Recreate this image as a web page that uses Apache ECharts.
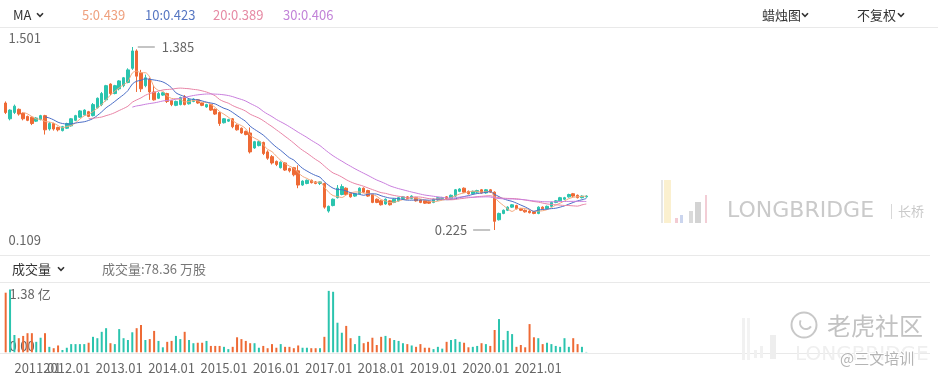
<!DOCTYPE html>
<html><head><meta charset="utf-8">
<script src="https://cdn.jsdelivr.net/npm/echarts@6/dist/echarts.min.js"></script>
<style>html,body{margin:0;padding:0;background:#fff}#main{width:940px;height:379px}</style>
</head><body><div id="main"></div>
<script>
// ---------- DATA (monthly) ----------
const startYear = 2010, startMonth = 11;
// [open, close, low, high]
const candles = [
[1.03,0.97,0.96,1.04],[0.93,0.985,0.92,0.99],[0.97,1.01,0.96,1.02],[0.99,0.96,0.95,0.995],[0.965,0.93,0.92,0.97],
[0.945,0.92,0.915,0.95],[0.94,0.90,0.89,0.945],[0.915,0.935,0.91,0.94],[0.925,0.95,0.92,0.955],[0.95,0.86,0.83,0.955],
[0.865,0.90,0.855,0.91],[0.90,0.865,0.855,0.905],[0.875,0.86,0.85,0.88],[0.855,0.88,0.85,0.885],[0.87,0.90,0.865,0.905],
[0.885,0.93,0.88,0.935],[0.92,0.95,0.915,0.955],[0.94,0.98,0.935,0.985],[0.955,0.985,0.95,0.99],[0.975,0.945,0.94,0.98],
[0.95,1.02,0.945,1.03],[1.00,1.06,0.995,1.065],[1.02,1.09,1.01,1.10],[1.05,1.14,1.04,1.145],[1.15,1.09,1.08,1.155],
[1.09,1.14,1.085,1.145],[1.12,1.17,1.11,1.175],[1.14,1.19,1.13,1.195],[1.16,1.24,1.155,1.25],[1.25,1.36,1.24,1.385],
[1.36,1.20,1.10,1.37],[1.22,1.12,1.10,1.24],[1.14,1.19,1.13,1.21],[1.18,1.10,1.05,1.19],[1.10,1.05,1.045,1.14],
[1.06,1.09,1.055,1.10],[1.08,1.095,1.075,1.10],[1.09,1.04,1.03,1.095],[1.045,1.02,1.01,1.05],[1.015,1.04,1.01,1.045],
[1.02,1.065,1.015,1.07],[1.07,1.02,1.015,1.08],[1.025,1.05,1.02,1.055],[1.04,1.055,1.035,1.06],[1.05,1.03,1.025,1.055],
[1.03,1.015,1.01,1.035],[1.005,1.02,1.0,1.025],[1.02,0.985,0.98,1.025],[0.99,0.96,0.955,0.995],[0.97,0.90,0.885,0.975],
[0.905,0.93,0.90,0.935],[0.915,0.925,0.91,0.93],[0.93,0.88,0.87,0.935],[0.89,0.86,0.855,0.895],[0.87,0.84,0.835,0.875],
[0.85,0.83,0.825,0.855],[0.84,0.72,0.71,0.875],[0.745,0.785,0.74,0.79],[0.76,0.785,0.755,0.79],[0.78,0.71,0.70,0.785],
[0.72,0.68,0.67,0.73],[0.69,0.65,0.64,0.70],[0.66,0.64,0.63,0.665],[0.62,0.655,0.615,0.66],[0.65,0.605,0.60,0.655],
[0.615,0.60,0.59,0.62],[0.62,0.575,0.565,0.625],[0.60,0.51,0.49,0.635],[0.51,0.535,0.505,0.54],[0.52,0.54,0.515,0.545],
[0.54,0.525,0.52,0.545],[0.53,0.52,0.515,0.535],[0.52,0.53,0.51,0.535],[0.52,0.37,0.36,0.525],[0.345,0.375,0.335,0.38],
[0.38,0.42,0.375,0.425],[0.43,0.49,0.425,0.51],[0.45,0.50,0.445,0.515],[0.49,0.45,0.445,0.495],[0.46,0.435,0.43,0.465],
[0.44,0.455,0.435,0.46],[0.455,0.49,0.45,0.495],[0.49,0.465,0.46,0.495],[0.475,0.44,0.435,0.48],[0.45,0.40,0.395,0.455],
[0.42,0.40,0.395,0.425],[0.41,0.385,0.38,0.415],[0.39,0.42,0.385,0.425],[0.41,0.385,0.38,0.415],[0.40,0.42,0.395,0.425],
[0.41,0.43,0.405,0.435],[0.425,0.435,0.42,0.44],[0.435,0.425,0.42,0.44],[0.425,0.44,0.42,0.445],[0.43,0.41,0.405,0.435],
[0.415,0.40,0.395,0.42],[0.41,0.395,0.39,0.415],[0.405,0.395,0.39,0.41],[0.40,0.42,0.395,0.425],[0.415,0.43,0.41,0.435],
[0.425,0.43,0.42,0.435],[0.435,0.425,0.42,0.44],[0.425,0.445,0.42,0.45],[0.44,0.48,0.435,0.485],[0.47,0.485,0.465,0.49],
[0.49,0.465,0.46,0.495],[0.47,0.455,0.45,0.475],[0.455,0.47,0.45,0.475],[0.465,0.475,0.46,0.48],[0.48,0.46,0.455,0.485],
[0.46,0.48,0.455,0.485],[0.48,0.465,0.46,0.485],[0.465,0.28,0.225,0.47],[0.29,0.33,0.285,0.335],[0.33,0.35,0.325,0.355],
[0.35,0.37,0.345,0.375],[0.37,0.385,0.365,0.39],[0.38,0.36,0.355,0.385],[0.36,0.35,0.345,0.365],[0.35,0.34,0.335,0.355],
[0.345,0.335,0.33,0.35],[0.34,0.33,0.325,0.345],[0.33,0.37,0.325,0.375],[0.37,0.36,0.355,0.375],[0.36,0.375,0.355,0.38],
[0.375,0.40,0.37,0.405],[0.40,0.41,0.395,0.415],[0.41,0.43,0.405,0.435],[0.42,0.43,0.415,0.435],[0.435,0.45,0.43,0.455],
[0.455,0.44,0.435,0.46],[0.445,0.43,0.425,0.45],[0.43,0.44,0.425,0.445],[0.435,0.44,0.43,0.445]
];
// volume in 亿股
const volumes = [
1.31,1.38,0.38,0.31,0.36,0.42,0.42,0.23,0.32,0.42,
0.12,0.09,0.15,0.05,0.10,0.18,0.18,0.18,0.18,0.21,
0.34,0.31,0.45,0.53,0.20,0.18,0.51,0.31,0.27,0.44,
0.53,0.60,0.27,0.29,0.47,0.25,0.11,0.23,0.25,0.36,
0.29,0.45,0.27,0.20,0.21,0.21,0.25,0.14,0.14,0.14,
0.12,0.07,0.12,0.33,0.29,0.25,0.20,0.20,0.10,0.14,
0.09,0.18,0.10,0.18,0.12,0.12,0.09,0.15,0.10,0.10,
0.09,0.09,0.09,0.34,1.35,1.33,0.65,0.43,0.58,0.31,
0.18,0.36,0.20,0.23,0.32,0.16,0.34,0.36,0.31,0.27,
0.25,0.20,0.18,0.15,0.12,0.18,0.10,0.10,0.07,0.12,
0.08,0.23,0.27,0.29,0.23,0.21,0.11,0.12,0.14,0.20,
0.18,0.14,0.49,0.73,0.27,0.47,0.40,0.12,0.16,0.11,
0.62,0.33,0.31,0.18,0.21,0.18,0.14,0.12,0.31,0.12,
0.31,0.18,0.12,0.007836
];
const maPeriods = [5, 10, 20, 30];
const maLegend = ['0.439', '0.423', '0.389', '0.406'];

// ---------- STYLE ----------
const UP = '#2BC4AE', DOWN = '#EE6A35';
const maColors = ['#F3A87C', '#4A6DC6', '#E884A6', '#C97EDD'];
const maTextColors = ['#EFA07E', '#5676C2', '#E68AA4', '#C283D8'];
const FONT = '"Noto Sans CJK SC","Noto Sans",sans-serif';

// categories (months)
const categories = candles.map((_, i) => {
  const m0 = startMonth - 1 + i;
  const y = startYear + Math.floor(m0 / 12);
  const m = (m0 % 12) + 1;
  return y + '.' + (m < 10 ? '0' + m : m);
});
const closes = candles.map(c => c[1]);
function calcMA(n) {
  return closes.map((_, i) => {
    if (i < n - 1) return '-';
    let s = 0;
    for (let j = i - n + 1; j <= i; j++) s += closes[j];
    return +(s / n).toFixed(4);
  });
}
const hi = Math.max(...candles.map(c => c[3]));
const lo = Math.min(...candles.map(c => c[2]));
const pad = (hi - lo) * 0.1;
const pMin = +(lo - pad).toFixed(3), pMax = +(hi + pad).toFixed(3);
const vMax = Math.max(...volumes);
const firstJan = categories.findIndex(c => c.endsWith('.01'));
// bottom axis categories: first January label is left-aligned (as in the source)
const axisCats = categories.map((c, i) => i === firstJan ? { value: c, textStyle: { align: 'left' } } : c);

const chart = echarts.init(document.getElementById('main'));

function txt(text, x, y, color, size, extra) {
  return {
    type: 'text', x: x, y: y, silent: true,
    style: Object.assign({ text: text, fill: color, fontSize: size, fontFamily: FONT, align: 'left', verticalAlign: 'middle' }, extra || {})
  };
}
function chev(x, y) {
  return { type: 'polyline', silent: true, shape: { points: [[x, y - 1.8], [x + 3, y + 1.4], [x + 6, y - 1.8]] },
    style: { stroke: '#333', lineWidth: 1.6, fill: null } };
}
function hline(y, x2) {
  return { type: 'line', silent: true, shape: { x1: 0, y1: y, x2: x2, y2: y }, style: { stroke: '#E9E9E9', lineWidth: 1 } };
}
function rect(x, y, w, h, c) {
  return { type: 'rect', silent: true, shape: { x: x, y: y, width: w, height: h }, style: { fill: c } };
}

const graphics = [
  hline(27.5, 938), hline(255.5, 930), hline(282.5, 930), hline(353.5, 930),
  txt('MA', 13, 15, '#333', 13), chev(37, 15),
  txt('蜡烛图', 762, 15, '#333', 13), chev(802, 15),
  txt('不复权', 857, 15, '#333', 13), chev(898, 15),
  txt('成交量', 12, 269, '#333', 13), chev(58, 269),
  txt('成交量:' + (volumes[volumes.length - 1] * 1e4).toFixed(2) + ' 万股', 102, 269, '#777', 13),
  // watermark (price area)
  rect(661, 180, 2, 43, '#E6E6E6'), rect(664, 180, 7, 43, '#FBF0CF'),
  rect(675, 218, 3, 5, '#F3CBD2'), rect(680, 215, 3, 8, '#CBD5EE'),
  rect(689, 211, 4, 12, '#DADADA'), rect(695, 202, 6, 21, '#D3D3D3'), rect(705, 195, 2, 28, '#F2CDD5'),
  txt('LONGBRIDGE', 727, 211, '#CACACA', 22, { fontFamily: '"DejaVu Sans",sans-serif' }),
  rect(891, 204, 1, 15, '#D8D8D8'),
  txt('长桥', 898, 211, '#CACACA', 13),
  // watermark (volume area)
  rect(742, 318, 3, 42, '#F1F1F1'), rect(747, 318, 3, 42, '#F3F3F3'), rect(754, 350, 3, 8, '#F1F1F1'),
  rect(760, 346, 3, 12, '#F1F1F1'), rect(770, 335, 6, 24, '#EEEEEE'),
  txt('LONGBRIDGE', 795, 355, '#EFEFEF', 20, { fontFamily: '"DejaVu Sans",sans-serif' }),
  { type: 'circle', silent: true, shape: { cx: 804, cy: 325, r: 12.5 }, style: { stroke: '#C8C8C8', lineWidth: 2, fill: null } },
  { type: 'arc', silent: true, shape: { cx: 806, cy: 323, r: 6, startAngle: 0.6, endAngle: 3.6 }, style: { stroke: '#C8C8C8', lineWidth: 2, fill: null } },
  txt('老虎社区', 827, 326, '#C2C2C2', 24, { stroke: '#fff', lineWidth: 1 }),
  txt('@三文培训', 840, 358, '#B4B4B4', 15, { stroke: '#fff', lineWidth: 2 })
];
maPeriods.forEach((n, k) => {
  const xs = [82, 145, 213, 283];
  graphics.push(txt(n + ':' + maLegend[k], xs[k], 15, maTextColors[k], 13));
});

const option = {
  animation: false,
  textStyle: { fontFamily: FONT },
  grid: [
    { left: 3.5, width: 585, top: 28.7, height: 219.6 },
    { left: 3.5, width: 585, top: 289.5, height: 62.8 }
  ],
  xAxis: [
    { type: 'category', gridIndex: 0, data: categories, boundaryGap: true,
      axisLine: { show: false }, axisTick: { show: false }, axisLabel: { show: false }, splitLine: { show: false } },
    { type: 'category', gridIndex: 1, data: axisCats, boundaryGap: true,
      axisLine: { show: false }, axisTick: { show: false }, splitLine: { show: false },
      axisLabel: {
        interval: 0,
        formatter: v => String(v).endsWith('.01') ? v : '',
        hideOverlap: false,
        color: '#666', fontSize: 13, margin: 9, fontFamily: FONT
      } }
  ],
  yAxis: [
    { type: 'value', gridIndex: 0, min: pMin, max: pMax, splitNumber: 1,
      axisLine: { show: false }, axisTick: { show: false }, splitLine: { show: false },
      axisLabel: {
        inside: true, margin: 5, showMinLabel: true, showMaxLabel: true, color: '#666', fontSize: 13,
        formatter: v => v === pMax ? '{t|' + v.toFixed(3) + '}' : (v === pMin ? '{b|' + v.toFixed(3) + '}' : ''),
        rich: { t: { padding: [18, 0, 0, 0], color: '#666', fontSize: 13, fontFamily: FONT },
                b: { padding: [0, 0, 16, 0], color: '#666', fontSize: 13, fontFamily: FONT } }
      } },
    { type: 'value', gridIndex: 1, min: 0, max: vMax, splitNumber: 1,
      axisLine: { show: false }, axisTick: { show: false }, splitLine: { show: false },
      axisLabel: {
        inside: true, margin: 6, showMinLabel: true, showMaxLabel: true, color: '#666', fontSize: 13,
        formatter: v => v === vMax ? '{t|' + v.toFixed(2) + ' 亿}' : (v === 0 ? '{b|0.00}' : ''),
        rich: { t: { padding: [10, 0, 0, 0], color: '#666', fontSize: 13, fontFamily: FONT },
                b: { padding: [0, 0, 12, 0], color: '#666', fontSize: 13, fontFamily: FONT } }
      } }
  ],
  series: [
    { type: 'candlestick', name: 'K', xAxisIndex: 0, yAxisIndex: 0, data: candles, barWidth: 3,
      itemStyle: { color: UP, color0: DOWN, borderColor: UP, borderColor0: DOWN, borderWidth: 1 },
      markPoint: {
        symbol: 'circle', symbolSize: 1, itemStyle: { color: 'rgba(0,0,0,0)' }, silent: true,
        label: { color: '#666', fontSize: 13, fontFamily: FONT,
          rich: { l: { width: 17, height: 1, backgroundColor: '#888' },
                  r: { padding: [0, 0, 0, 7], color: '#666', fontSize: 13, fontFamily: FONT },
                  s: { padding: [0, 6, 0, 0], color: '#666', fontSize: 13, fontFamily: FONT } } },
        data: [
          { type: 'max', valueDim: 'highest', label: { position: 'right', distance: 5, formatter: p => '{l| }{r|' + p.value.toFixed(3) + '}' } },
          { type: 'min', valueDim: 'lowest', label: { position: 'left', distance: 4, formatter: p => '{s|' + p.value.toFixed(3) + '}{l| }' } }
        ]
      } }
  ].concat(maPeriods.map((n, k) => ({
    type: 'line', name: 'MA' + n, xAxisIndex: 0, yAxisIndex: 0, data: calcMA(n),
    showSymbol: false, symbol: 'none', smooth: 0.3, z: 3,
    lineStyle: { width: 1, color: maColors[k] }
  }))).concat([
    { type: 'bar', name: 'VOL', xAxisIndex: 1, yAxisIndex: 1, barWidth: 2,
      data: volumes.map((v, i) => ({ value: v, itemStyle: { color: candles[i][1] >= candles[i][0] ? UP : DOWN } })) }
  ]),
  graphic: graphics
};
chart.setOption(option);
</script>
</body></html>
